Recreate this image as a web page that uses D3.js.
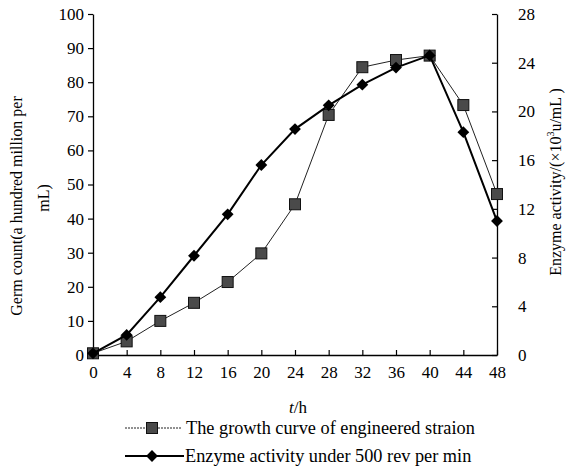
<!DOCTYPE html>
<html><head><meta charset="utf-8">
<script src="https://cdn.jsdelivr.net/npm/d3@7"></script>
<style>body{margin:0;background:#fff}svg{display:block}text{font-family:"Liberation Serif","Times New Roman",serif;fill:#000}</style>
</head><body><svg id="c" width="566" height="467"></svg>
<script>
const hours = [0,4,8,12,16,20,24,28,32,36,40,44,48];
const germCount = [0.5,4,10,15.3,21.4,29.8,44.2,70.4,84.4,86.5,87.8,73.3,47.2];
const enzymeActivity = [0.14,1.65,4.75,8.15,11.55,15.6,18.55,20.5,22.2,23.6,24.6,18.3,11.0];
const leftTicks = [0,10,20,30,40,50,60,70,80,90,100];
const rightTicks = [0,4,8,12,16,20,24,28];
const xTicks = hours;
const seriesNames = ["The growth curve of engineered straion","Enzyme activity under 500 rev per min"];

const svg = d3.select("#c");
const x = d3.scaleLinear().domain([0,48]).range([93,497]);
const yL = d3.scaleLinear().domain([0,100]).range([355,14]);
const yR = d3.scaleLinear().domain([0,28]).range([355,14]);

// axes
const gx = svg.append("g").attr("transform","translate(0,355)")
  .call(d3.axisBottom(x).tickValues(xTicks).tickSizeInner(-5).tickSizeOuter(0).tickPadding(11));
const gl = svg.append("g").attr("transform","translate(93,0)")
  .call(d3.axisLeft(yL).tickValues(leftTicks).tickSizeInner(5).tickSizeOuter(0).tickPadding(4));
const gr = svg.append("g").attr("transform","translate(497,0)")
  .call(d3.axisRight(yR).tickValues(rightTicks).tickSizeInner(-5).tickSizeOuter(0).tickPadding(21));
[gx,gl,gr].forEach(g=>{
  g.selectAll("path.domain").attr("stroke","#000").attr("stroke-width",1.3);
  g.selectAll("line").attr("stroke","#000").attr("stroke-width",1.2);
  g.selectAll("text").attr("font-size",17).style("font-family",'"Liberation Serif",serif').attr("fill","#000");
});

// growth series
const lineG = d3.line().x((d,i)=>x(hours[i])).y(d=>yL(d));
svg.append("path").datum(germCount).attr("d",lineG).attr("fill","none").attr("stroke","#222").attr("stroke-width",1);
svg.append("g").selectAll("rect").data(germCount).join("rect")
  .attr("x",(d,i)=>x(hours[i])-5.5).attr("y",d=>yL(d)-5.5).attr("width",11).attr("height",11)
  .attr("fill","#4a4a4a").attr("stroke","#111").attr("stroke-width",1);

// enzyme series
const lineE = d3.line().x((d,i)=>x(hours[i])).y(d=>yR(d));
svg.append("path").datum(enzymeActivity).attr("d",lineE).attr("fill","none").attr("stroke","#000").attr("stroke-width",2);
const diamond = d3.symbol().type(d3.symbolSquare).size(70);
svg.append("g").selectAll("path").data(enzymeActivity).join("path")
  .attr("d",diamond).attr("transform",(d,i)=>`translate(${x(hours[i])},${yR(d)}) rotate(45)`)
  .attr("fill","#000");

// axis titles
svg.append("text").attr("transform","translate(22,206) rotate(-90)").attr("text-anchor","middle")
  .attr("font-size",16).text("Germ count(a hundred million per");
svg.append("text").attr("transform","translate(49,198) rotate(-90)").attr("text-anchor","middle")
  .attr("font-size",16).text("mL)");
const rt = svg.append("text").attr("transform","translate(561,182) rotate(-90)").attr("text-anchor","middle").attr("font-size",16);
rt.append("tspan").text("Enzyme activity/(×10");
rt.append("tspan").attr("font-size",10).attr("dy",-7).text("3");
rt.append("tspan").attr("dy",7).text("u/mL )");
const xt = svg.append("text").attr("x",298).attr("y",413).attr("text-anchor","middle").attr("font-size",17);
xt.append("tspan").attr("font-style","italic").text("t");
xt.append("tspan").text("/h");

// legend
const ly = [428,456];
svg.append("line").attr("x1",125).attr("x2",181).attr("y1",ly[0]).attr("y2",ly[0]).attr("stroke","#222").attr("stroke-width",1).attr("stroke-dasharray","2,1");
svg.append("rect").attr("x",152-5.5).attr("y",ly[0]-5.5).attr("width",11).attr("height",11).attr("fill","#4a4a4a").attr("stroke","#111");
svg.append("line").attr("x1",125).attr("x2",184).attr("y1",ly[1]).attr("y2",ly[1]).attr("stroke","#000").attr("stroke-width",2);
svg.append("path").attr("d",diamond).attr("transform",`translate(152,${ly[1]}) rotate(45)`).attr("fill","#000");
svg.append("text").attr("x",186).attr("y",ly[0]+6).attr("font-size",18.3).text(seriesNames[0]);
svg.append("text").attr("x",185).attr("y",ly[1]+6).attr("font-size",18.3).text(seriesNames[1]);
</script></body></html>
